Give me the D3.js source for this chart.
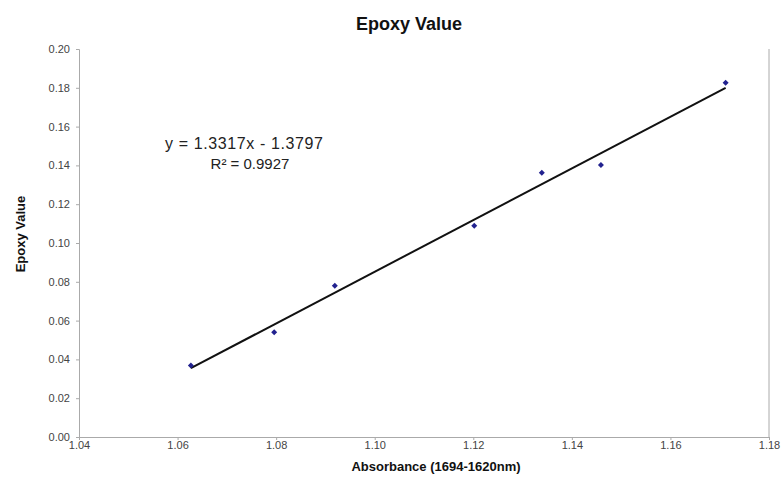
<!DOCTYPE html>
<html>
<head>
<meta charset="utf-8">
<script src="https://cdn.jsdelivr.net/npm/d3@7"></script>
<style>
  body { margin: 0; background: #fff; }
  text { font-family: Arial, "Liberation Sans", sans-serif; }
</style>
</head>
<body>
<div id="chart"></div>
<script>
// data
var absorbance = [1.0627, 1.0796, 1.0919, 1.1202, 1.1339, 1.1459, 1.1712];
var epoxyValue = [0.0368, 0.0540, 0.0780, 0.1089, 0.1362, 0.1402, 0.1826];
var xTicks = [1.04, 1.06, 1.08, 1.10, 1.12, 1.14, 1.16, 1.18];
var yTicks = [0.00, 0.02, 0.04, 0.06, 0.08, 0.10, 0.12, 0.14, 0.16, 0.18, 0.20];
var slope = 1.3317, intercept = -1.3797;

var width = 781, height = 491;
var margin = {top: 49, right: 12, bottom: 54, left: 79};

var svg = d3.select("#chart")
    .append("svg")
    .attr("width", width)
    .attr("height", height);

var x = d3.scaleLinear().domain([1.04, 1.18]).range([margin.left, width - margin.right]);
var y = d3.scaleLinear().domain([0, 0.20]).range([height - margin.bottom, margin.top]);

// title
svg.append("text")
    .attr("x", 409).attr("y", 30)
    .attr("text-anchor", "middle")
    .style("font-size", "18px").style("font-weight", "bold")
    .attr("fill", "#111")
    .text("Epoxy Value");

// right border
svg.append("line")
    .attr("x1", x(1.18)).attr("x2", x(1.18))
    .attr("y1", y(0.20)).attr("y2", y(0))
    .attr("stroke", "#aaa");

// axes
var xAxis = svg.append("g")
    .attr("transform", `translate(0, ${y(0)})`)
    .call(d3.axisBottom(x).tickValues(xTicks).tickFormat(d3.format(".2f")).tickSize(3).tickPadding(1));
var yAxis = svg.append("g")
    .attr("transform", `translate(${x(1.04)}, 0)`)
    .call(d3.axisLeft(y).tickValues(yTicks).tickFormat(d3.format(".2f")).tickSize(3).tickPadding(6));

[xAxis, yAxis].forEach(function(a){
    a.select(".domain").attr("stroke", "#aaa");
    a.selectAll(".tick line").attr("stroke", "#aaa");
    a.selectAll(".tick text")
        .attr("fill", "#444")
        .style("font-family", "Arial, 'Liberation Sans', sans-serif")
        .style("font-size", "11px");
});

// axis labels
svg.append("text")
    .attr("x", 436).attr("y", 471)
    .attr("text-anchor", "middle")
    .style("font-size", "13px").style("font-weight", "bold")
    .attr("fill", "#111")
    .text("Absorbance (1694-1620nm)");

svg.append("text")
    .attr("transform", "translate(25, 234) rotate(-90)")
    .attr("text-anchor", "middle")
    .style("font-size", "13px").style("font-weight", "bold")
    .attr("fill", "#111")
    .text("Epoxy Value");

// trendline
var x0 = d3.min(absorbance), x1 = d3.max(absorbance);
svg.append("line")
    .attr("x1", x(x0)).attr("y1", y(slope * x0 + intercept))
    .attr("x2", x(x1)).attr("y2", y(slope * x1 + intercept))
    .attr("stroke", "#111")
    .attr("stroke-width", 2);

// points
svg.append("g")
    .selectAll("path")
    .data(absorbance)
    .enter()
    .append("path")
        .attr("d", d3.symbol().type(d3.symbolSquare).size(18))
        .attr("transform", function(d, i){ return `translate(${x(d)}, ${y(epoxyValue[i])}) rotate(45)`; })
        .attr("fill", "#22228f");

// equation
svg.append("text")
    .attr("x", 165).attr("y", 149)
    .attr("textLength", 158)
    .style("font-size", "16px")
    .attr("fill", "#222")
    .text("y = 1.3317x - 1.3797");
svg.append("text")
    .attr("x", 250).attr("y", 169)
    .attr("text-anchor", "middle")
    .style("font-size", "15px")
    .attr("fill", "#222")
    .text("R² = 0.9927");
</script>
</body>
</html>
